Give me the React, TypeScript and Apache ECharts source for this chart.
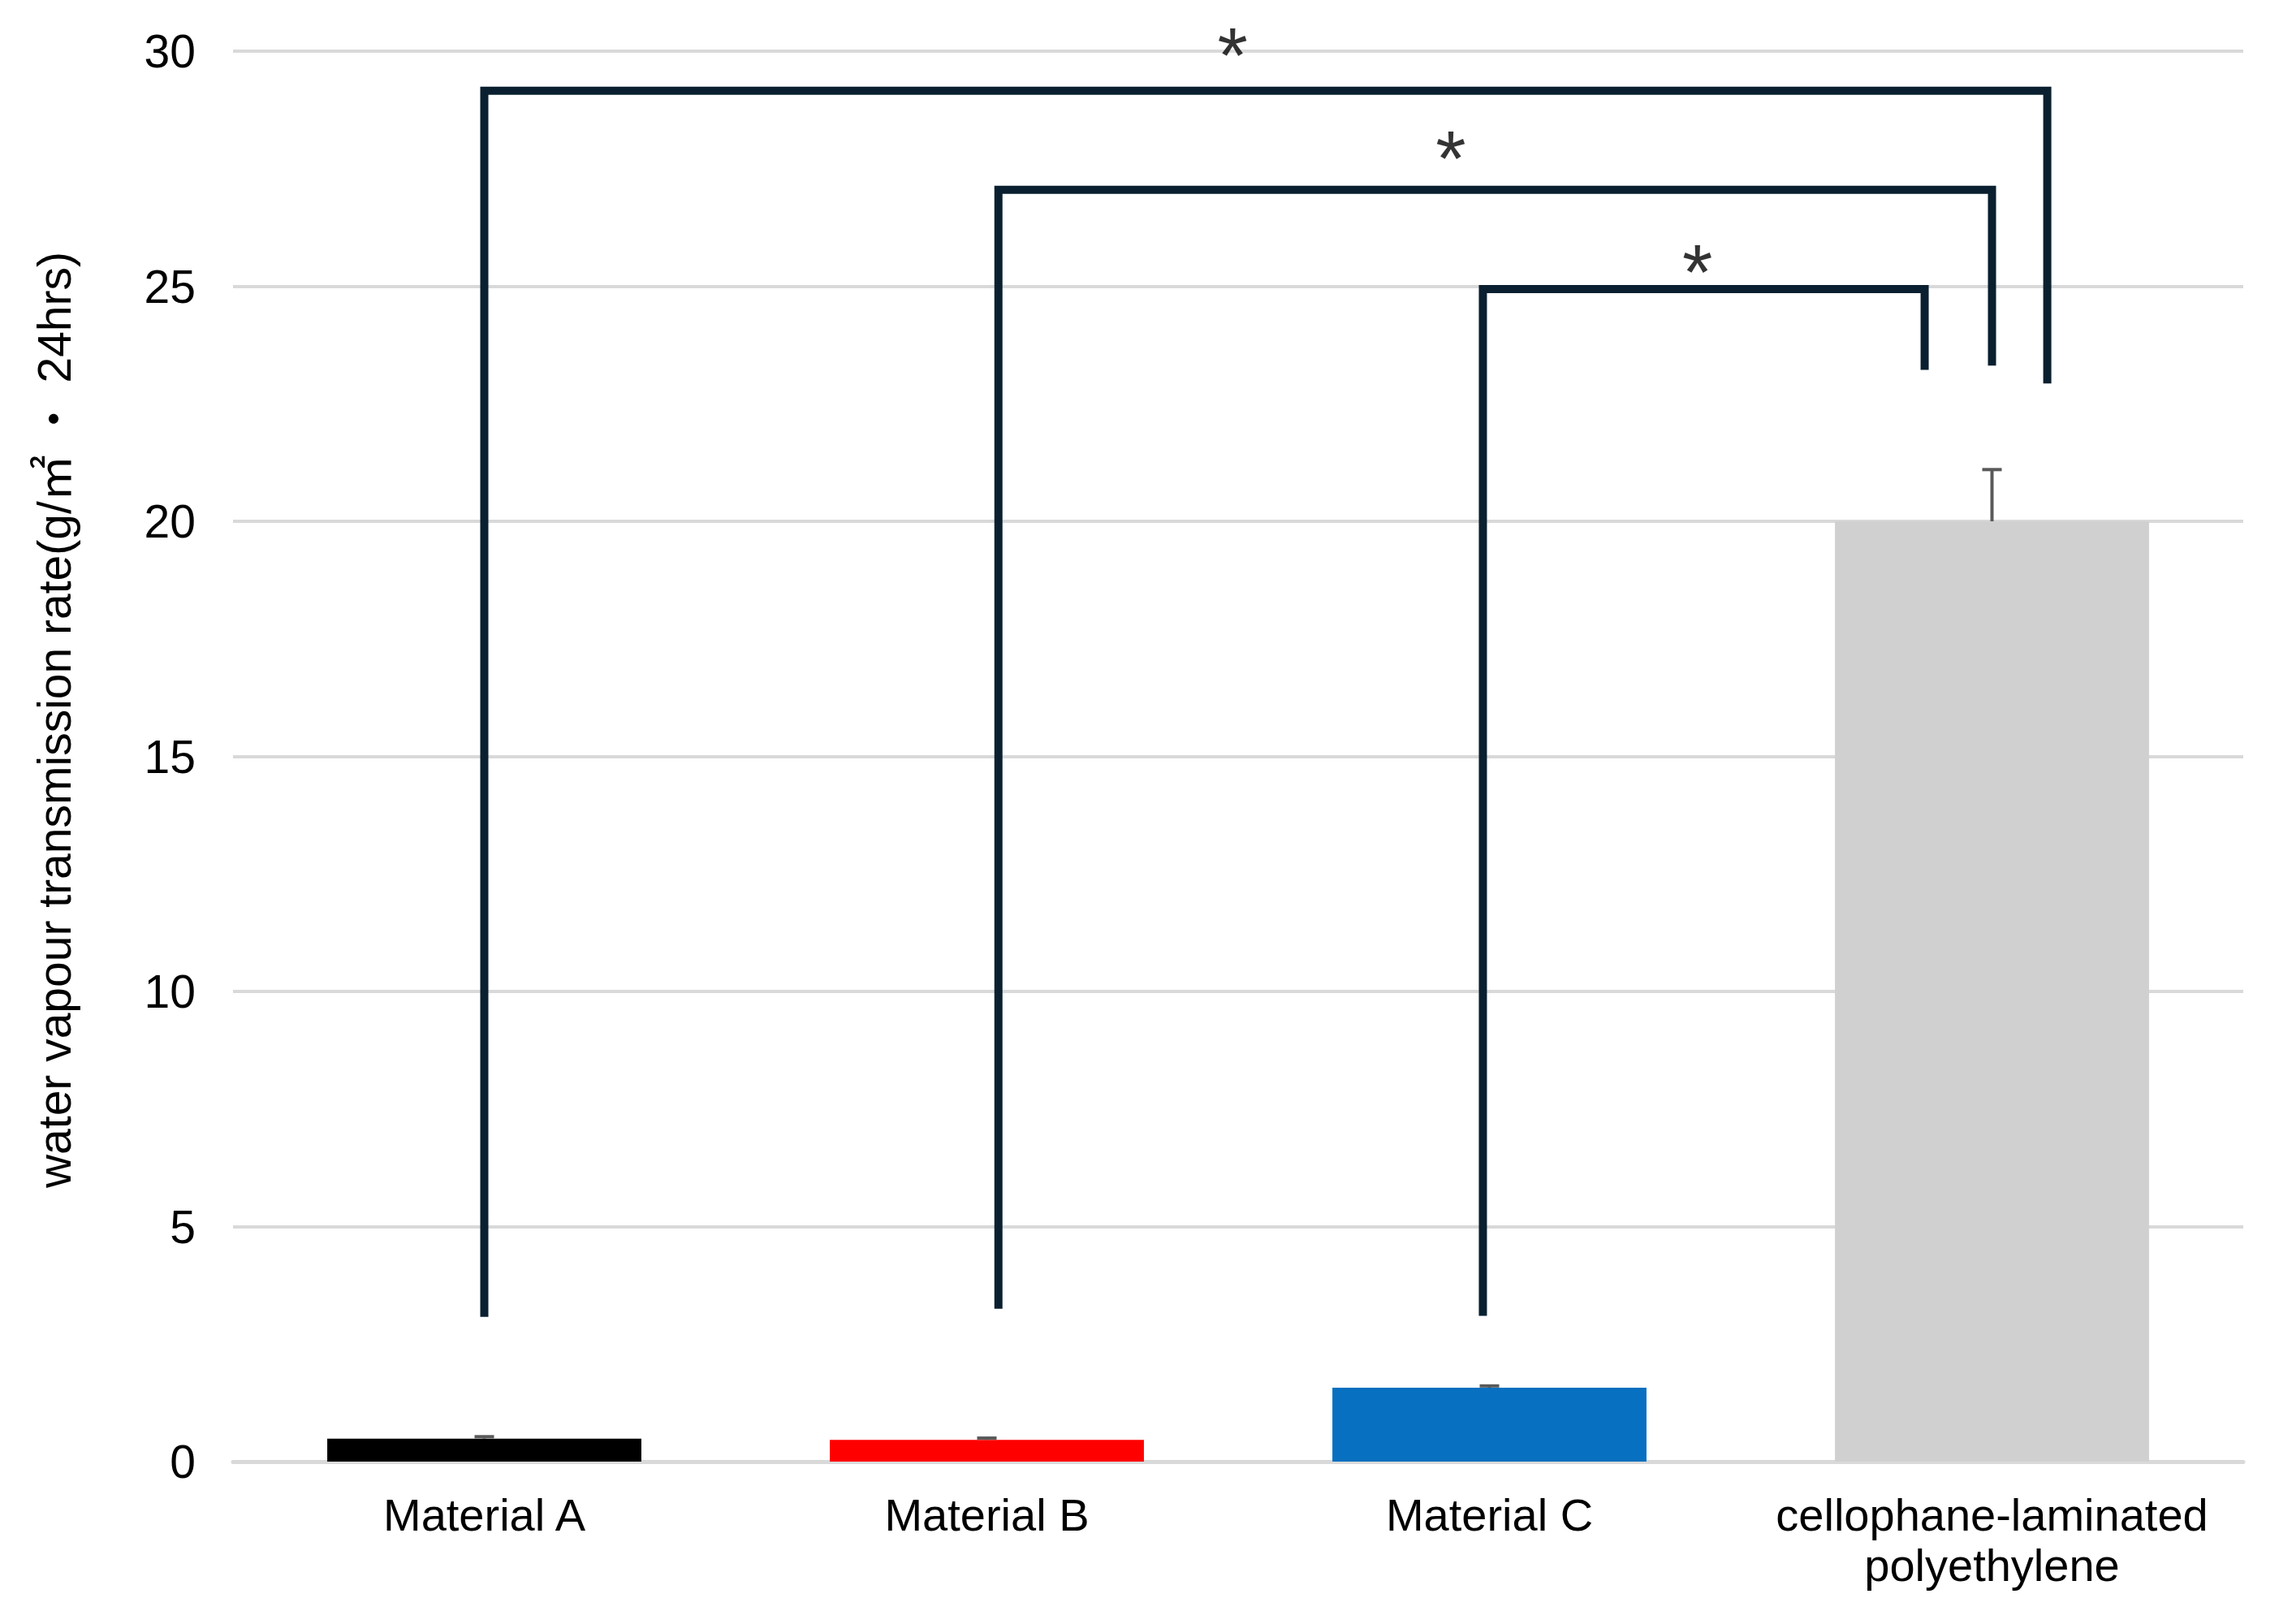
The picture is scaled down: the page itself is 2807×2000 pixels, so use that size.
import React, { useEffect, useRef } from "react";
import * as echarts from "echarts";

const categories = ["Material A", "Material B", "Material C", "cellophane-laminated\npolyethylene"];
const values = [0.49, 0.46, 1.57, 20.0];
const errors = [0.04, 0.04, 0.04, 1.1];
const barColors = ["#000000", "#FF0000", "#0870C0", "#D0D0D0"];
const yTicks = { min: 0, max: 30, interval: 5 };

// significance brackets: [x (category position), y (value)]
const bracketAC = [[0, 3.08], [0, 29.16], [3.11, 29.16], [3.11, 22.93]];
const bracketBC = [[1.023, 3.25], [1.023, 27.05], [3.0, 27.05], [3.0, 23.31]];
const bracketCD = [[1.987, 3.1], [1.987, 24.94], [2.866, 24.94], [2.866, 23.22]];
const asterisks = [[1.489, 30.16], [1.923, 27.97], [2.414, 25.55]];

const FONT = "'Liberation Sans', Arial, 'Noto Sans CJK JP', sans-serif";

export default function App() {
  const ref = useRef<HTMLDivElement>(null);
  useEffect(() => {
    if (!ref.current) return;
    const chart = echarts.init(ref.current, null, { renderer: "svg" });
    const bracketStyle = { color: "#0A2030", width: 10, join: "miter", cap: "butt" };
    const bracketSeries = [bracketAC, bracketBC, bracketCD].map((d) => ({
      type: "line",
      xAxisIndex: 1,
      yAxisIndex: 0,
      data: d,
      symbol: "none",
      lineStyle: bracketStyle,
      z: 10,
      silent: true,
      clip: false,
    }));
    chart.setOption({
      animation: false,
      backgroundColor: "#ffffff",
      textStyle: { fontFamily: FONT },
      grid: { left: 287, right: 44, top: 63, bottom: 200 },
      xAxis: [
        {
          type: "category",
          data: categories,
          axisLine: { show: true, lineStyle: { color: "#D9D9D9", width: 5 } },
          axisTick: { show: false },
          axisLabel: {
            color: "#000000",
            fontSize: 56,
            fontFamily: FONT,
            margin: 34,
            lineHeight: 62,
            interval: 0,
          },
        },
        {
          type: "value",
          min: -0.5,
          max: 3.5,
          show: false,
        },
      ],
      yAxis: {
        type: "value",
        min: yTicks.min,
        max: yTicks.max,
        interval: yTicks.interval,
        axisLine: { show: false },
        axisTick: { show: false },
        splitLine: { show: true, lineStyle: { color: "#D9D9D9", width: 4 } },
        axisLabel: { color: "#000000", fontSize: 57, fontFamily: FONT, margin: 46 },
        name: "water vapour transmission rate(g/㎡ ・ 24hrs)",
        nameLocation: "middle",
        nameGap: 192,
        nameTextStyle: { color: "#000000", fontSize: 57, fontFamily: FONT, padding: [0, 0, 0, 90] },
      },
      series: [
        {
          type: "bar",
          data: values.map((v, i) => ({ value: v, itemStyle: { color: barColors[i] } })),
          barWidth: "62.5%",
          z: 2,
        },
        {
          type: "custom",
          xAxisIndex: 0,
          yAxisIndex: 0,
          data: values.map((v, i) => [i, v, v + errors[i]]),
          encode: { x: 0, y: [1, 2] },
          z: 5,
          silent: true,
          renderItem: (params: any, api: any) => {
            const x = api.value(0);
            const lo = api.coord([x, api.value(1)]);
            const hi = api.coord([x, api.value(2)]);
            const half = 12;
            const style = { stroke: "#595959", lineWidth: 4 };
            return {
              type: "group",
              children: [
                { type: "line", shape: { x1: lo[0], y1: lo[1], x2: hi[0], y2: hi[1] }, style },
                { type: "line", shape: { x1: hi[0] - half, y1: hi[1], x2: hi[0] + half, y2: hi[1] }, style },
              ],
            };
          },
        },
        ...bracketSeries,
        {
          type: "scatter",
          xAxisIndex: 1,
          yAxisIndex: 0,
          data: asterisks,
          symbolSize: 1,
          clip: false,
          itemStyle: { color: "rgba(0,0,0,0)" },
          z: 11,
          silent: true,
          label: {
            show: true,
            position: "inside",
            formatter: "*",
            fontSize: 96,
            color: "#000000",
            fontFamily: FONT,
            offset: [0, 14],
          },
        },
      ],
    });
    return () => chart.dispose();
  }, []);
  return (
    <div
      ref={ref}
      style={{ position: "absolute", left: 0, top: 0, width: 2807, height: 2000, background: "#fff" }}
    />
  );
}
